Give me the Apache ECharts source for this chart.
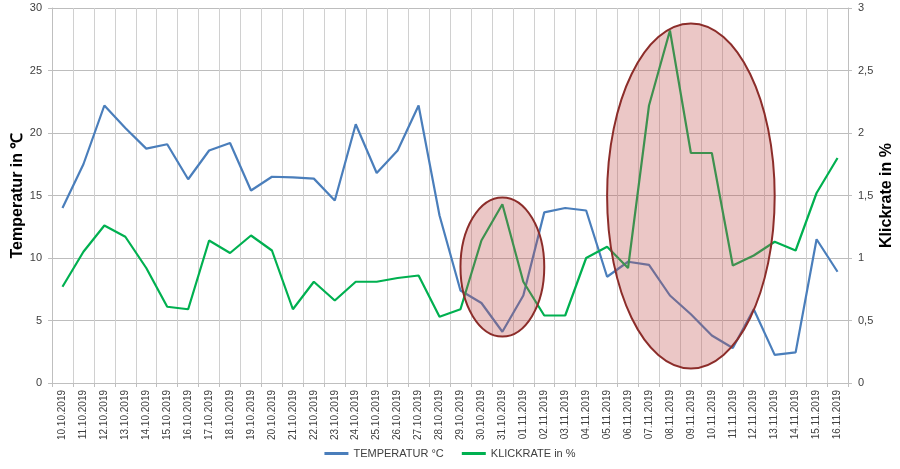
<!DOCTYPE html>
<html><head><meta charset="utf-8">
<script src="https://cdn.jsdelivr.net/npm/echarts@6/dist/echarts.min.js"></script>
<style>html,body{margin:0;padding:0;background:#fff}#c{width:900px;height:469px}</style>
</head><body><div id="c"></div>
<script>
const categories = ["10.10.2019","11.10.2019","12.10.2019","13.10.2019","14.10.2019","15.10.2019","16.10.2019","17.10.2019","18.10.2019","19.10.2019","20.10.2019","21.10.2019","22.10.2019","23.10.2019","24.10.2019","25.10.2019","26.10.2019","27.10.2019","28.10.2019","29.10.2019","30.10.2019","31.10.2019","01.11.2019","02.11.2019","03.11.2019","04.11.2019","05.11.2019","06.11.2019","07.11.2019","08.11.2019","09.11.2019","10.11.2019","11.11.2019","12.11.2019","13.11.2019","14.11.2019","15.11.2019","16.11.2019"];
const temperatur = [14.0,17.5,22.2,20.4,18.75,19.1,16.3,18.6,19.2,15.4,16.5,16.45,16.35,14.6,20.7,16.8,18.6,22.2,13.4,7.4,6.4,4.1,7.0,13.65,14.0,13.8,8.5,9.7,9.45,7.0,5.5,3.8,2.8,5.9,2.25,2.45,11.5,8.9];
const klickrate = [0.77,1.05,1.26,1.17,0.92,0.61,0.59,1.14,1.04,1.18,1.06,0.59,0.81,0.66,0.81,0.81,0.84,0.86,0.53,0.59,1.14,1.43,0.81,0.54,0.54,1.0,1.09,0.92,2.22,2.82,1.84,1.84,0.94,1.02,1.13,1.06,1.52,1.80];
const seriesNames = ["TEMPERATUR °C","KLICKRATE in %"];
// highlight ellipses: [centerCategoryIndex, centerTemp, halfWidthInCategories, halfHeightInTemp]
const highlights = [[20.85,9.28,2.35,5.56],[30.0,14.96,4.0,13.8]];

const chart = echarts.init(document.getElementById('c'));
const font = "'Liberation Sans', Arial, sans-serif";
chart.setOption({
  animation:false,
  textStyle:{fontFamily:font},
  grid:{left:52,right:52,top:8,bottom:86,containLabel:false,outerBoundsMode:'none'},
  legend:{bottom:5,left:'center',itemWidth:24,itemHeight:3,icon:'rect',itemGap:18,
    textStyle:{fontSize:11,color:'#404040',fontFamily:"'Liberation Sans Narrow','Liberation Sans',sans-serif"}},
  xAxis:{type:'category',data:categories,boundaryGap:true,
    axisLine:{lineStyle:{color:'#bfbfbf'}},
    axisTick:{show:true,length:4,interval:0,lineStyle:{color:'#bfbfbf'}},
    axisLabel:{rotate:90,interval:0,fontSize:10,color:'#404040',margin:7},
    splitLine:{show:true,interval:0,lineStyle:{color:'#d0d0d0'}}},
  yAxis:[
    {type:'value',min:0,max:30,interval:5,name:'Temperatur in ℃',nameLocation:'middle',nameGap:26,nameMoveOverlap:false,
     nameTextStyle:{fontSize:16,fontWeight:'bold',color:'#000'},
     axisLine:{show:true,lineStyle:{color:'#bfbfbf'}},axisTick:{show:true,length:4,lineStyle:{color:'#bfbfbf'}},
     axisLabel:{fontSize:11,color:'#404040',margin:10},
     splitLine:{show:true,lineStyle:{color:'#bdbdbd'}}},
    {type:'value',min:0,max:3,interval:0.5,name:'Klickrate in %',nameLocation:'middle',nameGap:31,nameRotate:90,nameMoveOverlap:false,
     nameTextStyle:{fontSize:16,fontWeight:'bold',color:'#000'},
     axisLine:{show:true,lineStyle:{color:'#bfbfbf'}},axisTick:{show:true,length:4,lineStyle:{color:'#bfbfbf'}},
     axisLabel:{fontSize:11,color:'#404040',margin:10,formatter:v=>String(v).replace('.',',')},
     splitLine:{show:false}}
  ],
  series:[
    {name:seriesNames[0],type:'line',data:temperatur,yAxisIndex:0,symbol:'none',z:3,
     lineStyle:{color:'#4a7ebb',width:2.2},itemStyle:{color:'#4a7ebb'}},
    {name:seriesNames[1],type:'line',data:klickrate,yAxisIndex:1,symbol:'none',z:3,
     lineStyle:{color:'#00b050',width:2.2},itemStyle:{color:'#00b050'}}
  ]
});
function drawHighlights(){
  const els = highlights.map(h=>{
    const c = chart.convertToPixel({xAxisIndex:0,yAxisIndex:0},[h[0],h[1]]);
    const e = chart.convertToPixel({xAxisIndex:0,yAxisIndex:0},[h[0]+h[2],h[1]+h[3]]);
    return {type:'ellipse',z:10,shape:{cx:c[0],cy:c[1],rx:Math.abs(e[0]-c[0]),ry:Math.abs(c[1]-e[1])},
      style:{fill:'rgba(192,80,77,0.32)',stroke:'#8c2d2a',lineWidth:2}};
  });
  chart.setOption({graphic:els});
}
drawHighlights();
</script></body></html>
